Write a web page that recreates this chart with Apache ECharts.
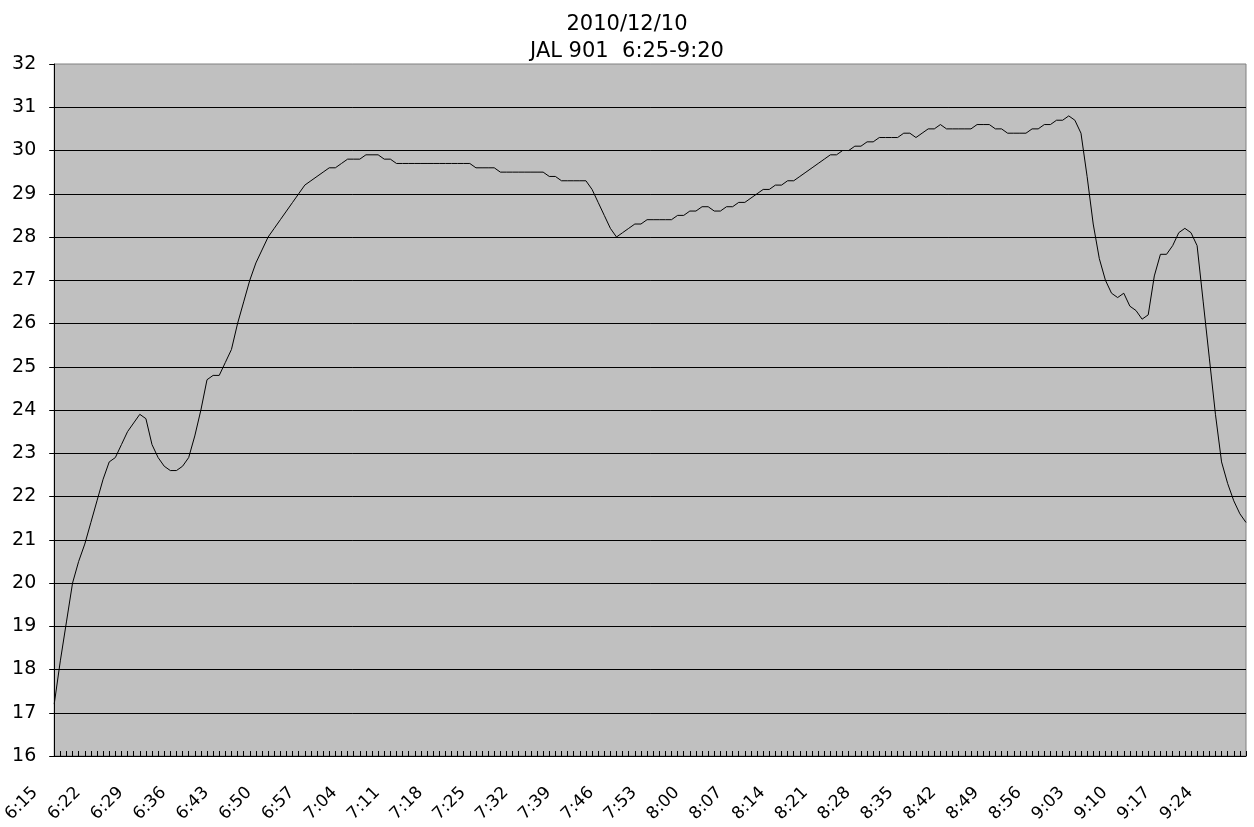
<!DOCTYPE html>
<html>
<head>
<meta charset="utf-8">
<script src="https://cdn.jsdelivr.net/npm/echarts@6/dist/echarts.min.js"></script>
<style>
  html, body { margin: 0; padding: 0; background: #fff; }
  #chart { width: 1254px; height: 827px; }
</style>
</head>
<body>
<div id="chart"></div>
<script>
const titleLines = ['2010/12/10', 'JAL 901  6:25-9:20'];

const times = [
  '6:15','6:16','6:17','6:18','6:19','6:20','6:21','6:22','6:23','6:24','6:25','6:26','6:27','6:28','6:29',
  '6:30','6:31','6:32','6:33','6:34','6:35','6:36','6:37','6:38','6:39','6:40','6:41','6:42','6:43','6:44',
  '6:45','6:46','6:47','6:48','6:49','6:50','6:51','6:52','6:53','6:54','6:55','6:56','6:57','6:58','6:59',
  '7:00','7:01','7:02','7:03','7:04','7:05','7:06','7:07','7:08','7:09','7:10','7:11','7:12','7:13','7:14',
  '7:15','7:16','7:17','7:18','7:19','7:20','7:21','7:22','7:23','7:24','7:25','7:26','7:27','7:28','7:29',
  '7:30','7:31','7:32','7:33','7:34','7:35','7:36','7:37','7:38','7:39','7:40','7:41','7:42','7:43','7:44',
  '7:45','7:46','7:47','7:48','7:49','7:50','7:51','7:52','7:53','7:54','7:55','7:56','7:57','7:58','7:59',
  '8:00','8:01','8:02','8:03','8:04','8:05','8:06','8:07','8:08','8:09','8:10','8:11','8:12','8:13','8:14',
  '8:15','8:16','8:17','8:18','8:19','8:20','8:21','8:22','8:23','8:24','8:25','8:26','8:27','8:28','8:29',
  '8:30','8:31','8:32','8:33','8:34','8:35','8:36','8:37','8:38','8:39','8:40','8:41','8:42','8:43','8:44',
  '8:45','8:46','8:47','8:48','8:49','8:50','8:51','8:52','8:53','8:54','8:55','8:56','8:57','8:58','8:59',
  '9:00','9:01','9:02','9:03','9:04','9:05','9:06','9:07','9:08','9:09','9:10','9:11','9:12','9:13','9:14',
  '9:15','9:16','9:17','9:18','9:19','9:20','9:21','9:22','9:23','9:24','9:25','9:26','9:27','9:28','9:29',
  '9:30'
];

const values = [
  17.2,18.2,19.1,20.0,20.5,20.9,21.4,21.9,22.4,22.8,22.9,23.2,23.5,23.7,23.9,
  23.8,23.2,22.9,22.7,22.6,22.6,22.7,22.9,23.4,24.0,24.7,24.8,24.8,25.1,25.4,
  26.0,26.5,27.0,27.4,27.7,28.0,28.2,28.4,28.6,28.8,29.0,29.2,29.3,29.4,29.5,
  29.6,29.6,29.7,29.8,29.8,29.8,29.9,29.9,29.9,29.8,29.8,29.7,29.7,29.7,29.7,
  29.7,29.7,29.7,29.7,29.7,29.7,29.7,29.7,29.7,29.6,29.6,29.6,29.6,29.5,29.5,
  29.5,29.5,29.5,29.5,29.5,29.5,29.4,29.4,29.3,29.3,29.3,29.3,29.3,29.1,28.8,
  28.5,28.2,28.0,28.1,28.2,28.3,28.3,28.4,28.4,28.4,28.4,28.4,28.5,28.5,28.6,
  28.6,28.7,28.7,28.6,28.6,28.7,28.7,28.8,28.8,28.9,29.0,29.1,29.1,29.2,29.2,
  29.3,29.3,29.4,29.5,29.6,29.7,29.8,29.9,29.9,30.0,30.0,30.1,30.1,30.2,30.2,
  30.3,30.3,30.3,30.3,30.4,30.4,30.3,30.4,30.5,30.5,30.6,30.5,30.5,30.5,30.5,
  30.5,30.6,30.6,30.6,30.5,30.5,30.4,30.4,30.4,30.4,30.5,30.5,30.6,30.6,30.7,
  30.7,30.8,30.7,30.4,29.4,28.3,27.5,27.0,26.7,26.6,26.7,26.4,26.3,26.1,26.2,
  27.1,27.6,27.6,27.8,28.1,28.2,28.1,27.8,26.5,25.2,23.9,22.8,22.3,21.9,21.6,
  21.4
];

const yTicks = { min: 16, max: 32, step: 1 };

const FONT = '"DejaVu Sans", "Noto Sans", sans-serif';
const chart = echarts.init(document.getElementById('chart'), null, { renderer: 'canvas' });

chart.setOption({
  backgroundColor: '#ffffff',
  animation: false,
  title: {
    text: titleLines.join('\n'),
    left: 'center',
    top: 6,
    textStyle: { fontFamily: FONT, fontSize: 21, fontWeight: 'normal', color: '#000', lineHeight: 27 }
  },
  grid: {
    left: 54, right: 8, top: 64, bottom: 71,
    show: true, backgroundColor: '#C0C0C0', borderColor: '#808080', borderWidth: 1
  },
  xAxis: {
    type: 'category',
    data: times,
    boundaryGap: false,
    axisLine: { show: true, lineStyle: { color: '#000', width: 1 } },
    axisTick: { show: true, inside: true, length: 5, interval: 0, lineStyle: { color: '#000', width: 1 } },
    axisLabel: {
      interval: 6, rotate: 45, margin: 15, padding: [0, 27, 0, 0],
      fontFamily: FONT, fontSize: 17, color: '#000'
    },
    splitLine: { show: false }
  },
  yAxis: {
    type: 'value',
    min: yTicks.min, max: yTicks.max, interval: yTicks.step,
    axisLine: { show: true, lineStyle: { color: '#000', width: 1 } },
    axisTick: { show: true, length: 5, lineStyle: { color: '#000', width: 1 } },
    axisLabel: { fontFamily: FONT, fontSize: 19, color: '#000', margin: 18 },
    splitLine: { show: true, showMaxLine: false, lineStyle: { color: '#000', width: 1 } }
  },
  series: [{
    type: 'line',
    data: values,
    symbol: 'none',
    smooth: false,
    lineStyle: { color: '#000', width: 1 }
  }]
});
</script>
</body>
</html>
